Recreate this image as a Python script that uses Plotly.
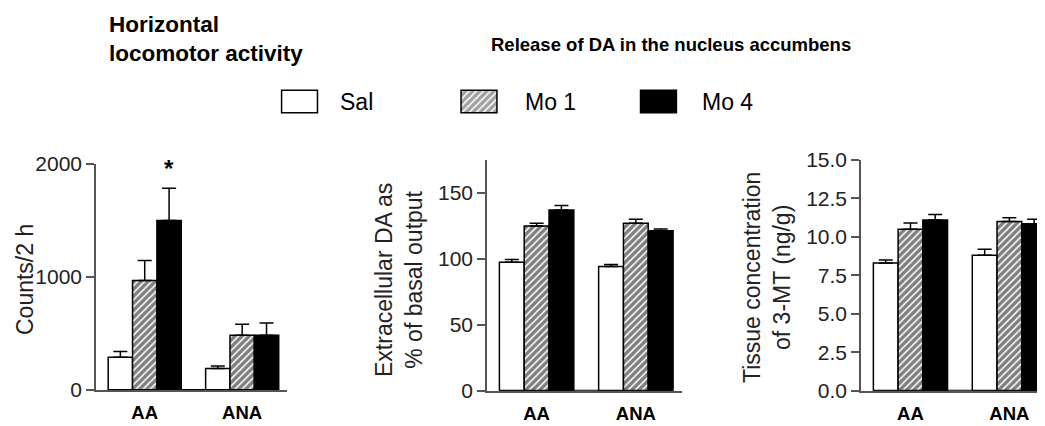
import plotly.graph_objects as go

# ---------------- data ----------------
groups = ["AA", "ANA"]
series = ["Sal", "Mo 1", "Mo 4"]

loco_sal = [290, 190]
loco_sal_err = [50, 22]
loco_mo1 = [970, 485]
loco_mo1_err = [175, 97]
loco_mo4 = [1500, 485]
loco_mo4_err = [285, 108]

da_sal = [97.5, 94.2]
da_sal_err = [2.0, 1.5]
da_mo1 = [125, 127]
da_mo1_err = [2.0, 3.0]
da_mo4 = [137, 121.3]
da_mo4_err = [3.5, 1.3]

mt_sal = [8.3, 8.8]
mt_sal_err = [0.2, 0.4]
mt_mo1 = [10.5, 11.0]
mt_mo1_err = [0.4, 0.25]
mt_mo4 = [11.1, 10.85]
mt_mo4_err = [0.35, 0.3]

loco_ticks = [0, 1000, 2000]
da_ticks = [0, 50, 100, 150]
mt_ticks = [0.0, 2.5, 5.0, 7.5, 10.0, 12.5, 15.0]

legend_swatch = [1, 1, 1]

# ---------------- layout helpers ----------------
OFF = 8  # page body margin
W, H = 1045 - OFF, 426 - OFF
FONT = "Liberation Sans, Arial, Helvetica, sans-serif"
AXC = "#555555"


def fx(p):
    return (p - OFF) / W


def fy(p):
    return 1 - (p - OFF) / H


fill = {"Sal": "white", "Mo 1": "white", "Mo 4": "black"}
HATCH = dict(fgcolor="black", bgcolor="white", size=5, solidity=0.7)
patt = {
    "Sal": dict(shape=""),
    "Mo 1": dict(shape="/", **HATCH),
    "Mo 4": dict(shape=""),
}

panels = [
    ("x", "y", [(loco_sal, loco_sal_err), (loco_mo1, loco_mo1_err), (loco_mo4, loco_mo4_err)]),
    ("x2", "y2", [(da_sal, da_sal_err), (da_mo1, da_mo1_err), (da_mo4, da_mo4_err)]),
    ("x3", "y3", [(mt_sal, mt_sal_err), (mt_mo1, mt_mo1_err), (mt_mo4, mt_mo4_err)]),
]

fig = go.Figure()
for xa, ya, data in panels:
    for name, (vals, errs) in zip(series, data):
        fig.add_trace(go.Bar(
            x=groups, y=vals, name=name, xaxis=xa, yaxis=ya,
            marker=dict(color=fill[name], pattern=patt[name],
                        line=dict(color="black", width=1.5)),
            error_y=dict(type="data", array=errs, arrayminus=[0] * len(errs),
                         symmetric=False, color="black", thickness=1.5, width=7),
            showlegend=False,
        ))

# legend swatches drawn as bars on a hidden axis
fig.add_trace(go.Bar(
    x=[0, 1, 2], y=legend_swatch, width=0.2, xaxis="x4", yaxis="y4",
    marker=dict(color=[fill[s] for s in series],
                pattern=dict(shape=["", "/", ""], **HATCH),
                line=dict(color="black", width=1.5)),
    showlegend=False, hoverinfo="skip",
))

xcommon = dict(type="category", showline=True, linecolor=AXC, linewidth=1.5,
               ticks="outside", ticklen=5, tickcolor="rgba(0,0,0,0)",
               tickfont=dict(family=FONT, size=18.5, color="black", weight="bold"),
               showgrid=False, zeroline=False, fixedrange=True, automargin=False)
ycommon = dict(showline=True, linecolor=AXC, linewidth=1.5, ticks="outside",
               ticklen=8, tickwidth=1.5, tickcolor=AXC,
               tickfont=dict(family=FONT, size=21, color="#222"),
               showgrid=False, zeroline=False, fixedrange=True, automargin=False)

fig.update_layout(
    width=W, height=H,
    margin=dict(l=0, r=0, t=0, b=0),
    paper_bgcolor="white", plot_bgcolor="white",
    barmode="group", bargap=0.25, bargroupgap=0,
    font=dict(family=FONT, color="black"),
    xaxis=dict(domain=[fx(96), fx(287)], range=[-0.5, 1.46], anchor="y", **xcommon),
    yaxis=dict(domain=[fy(390), fy(164)], range=[0, 2000], tickvals=loco_ticks,
               anchor="x", **ycommon),
    xaxis2=dict(domain=[fx(487), fx(682)], range=[-0.5, 1.465], anchor="y2", **xcommon),
    yaxis2=dict(domain=[fy(390.7), fy(160)], range=[0, 175], tickvals=da_ticks,
                anchor="x2", **ycommon),
    xaxis3=dict(domain=[fx(861), 1.0], range=[-0.5, 1.36], anchor="y3", **xcommon),
    yaxis3=dict(domain=[fy(390.7), fy(160)], range=[0, 15], tickvals=mt_ticks,
                tickformat=".1f", anchor="x3", **ycommon),
    xaxis4=dict(domain=[fx(278), fx(680)], range=[-0.12, 2.12], visible=False,
                fixedrange=True, anchor="y4"),
    yaxis4=dict(domain=[fy(115), fy(88)], range=[-0.1, 1.1], visible=False,
                fixedrange=True, anchor="x4"),
)

# black baseline under the bar groups
for xa, ya in [("x", "y"), ("x2", "y2"), ("x3", "y3")]:
    fig.add_shape(type="line", xref=xa, yref=ya, x0=-0.375, x1=1.375, y0=0, y1=0,
                  line=dict(color="black", width=2))

ann = []
# titles
ann.append(dict(text="Horizontal<br>locomotor activity", x=fx(107), y=fy(10),
                xanchor="left", yanchor="top", align="left", showarrow=False,
                xref="paper", yref="paper",
                font=dict(family=FONT, size=22.5, weight="bold", color="black")))
ann.append(dict(text="Release of DA in the nucleus accumbens", x=fx(671), y=fy(44),
                xanchor="center", yanchor="middle", showarrow=False,
                xref="paper", yref="paper",
                font=dict(family=FONT, size=18.5, weight="bold", color="black")))
# legend labels
for lbl, xp in zip(series, [338, 523, 700]):
    ann.append(dict(text=lbl, x=fx(xp), y=fy(102), xanchor="left", yanchor="middle",
                    showarrow=False, xref="paper", yref="paper",
                    font=dict(family=FONT, size=23, color="black")))
# y-axis titles
ann.append(dict(text="Counts/2 h", x=fx(25), y=fy(280), textangle=-90,
                xanchor="center", yanchor="middle", showarrow=False,
                xref="paper", yref="paper", font=dict(family=FONT, size=23, color="#222")))
ann.append(dict(text="Extracellular DA as<br>% of basal output", x=fx(399), y=fy(280),
                textangle=-90, xanchor="center", yanchor="middle", showarrow=False,
                xref="paper", yref="paper", font=dict(family=FONT, size=23, color="#222")))
ann.append(dict(text="Tissue concentration<br>of 3-MT (ng/g)", x=fx(767), y=fy(278),
                textangle=-90, xanchor="center", yanchor="middle", showarrow=False,
                xref="paper", yref="paper", font=dict(family=FONT, size=23, color="#222")))
# significance asterisk over Mo 4 / AA
ann.append(dict(text="*", x=0.25, y=loco_mo4[0] + loco_mo4_err[0], xref="x", yref="y",
                xanchor="center", yanchor="bottom", yshift=4, showarrow=False,
                font=dict(family=FONT, size=24, weight="bold", color="black")))

fig.update_layout(annotations=ann)
fig.write_html("out.html")
